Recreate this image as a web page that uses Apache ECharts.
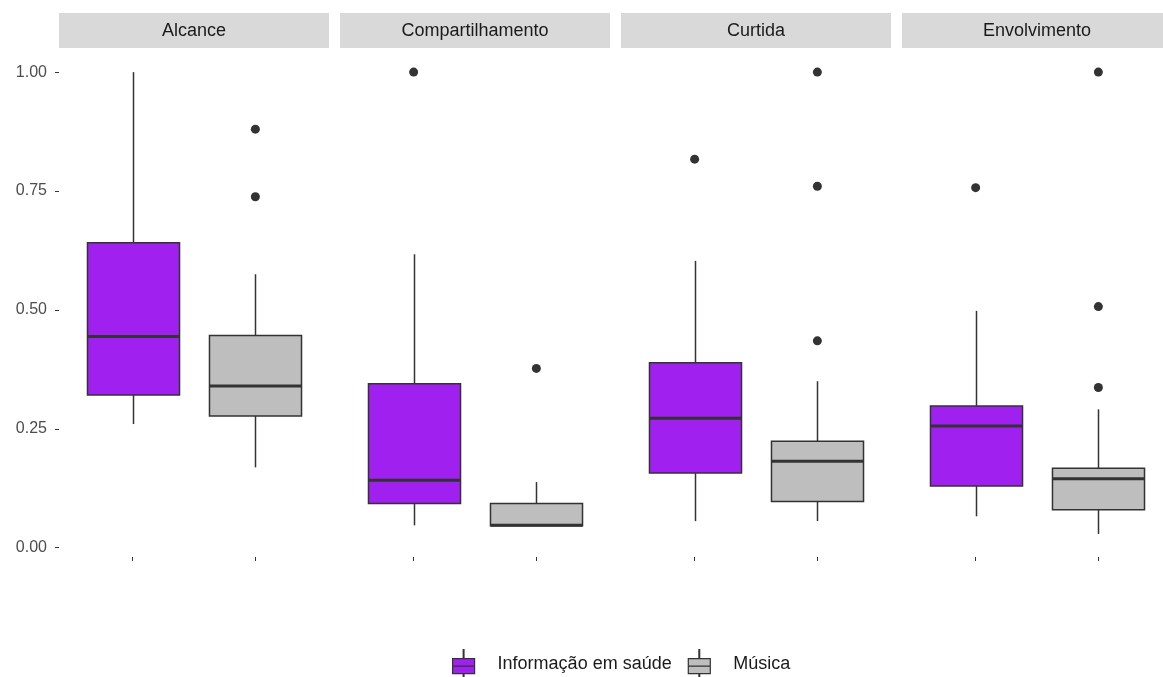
<!DOCTYPE html>
<html>
<head>
<meta charset="utf-8">
<script src="https://cdn.jsdelivr.net/npm/echarts@6/dist/echarts.min.js"></script>
<style>
  html, body { margin: 0; padding: 0; background: #fff; }
  #chart { width: 1163px; height: 677px; }
</style>
</head>
<body>
<div id="chart"></div>
<script>
// facetas e grupos
const panels = ['Alcance', 'Compartilhamento', 'Curtida', 'Envolvimento']
const groups = ['Informação em saúde', 'Música']

// [min, Q1, mediana, Q3, max] por faceta
const saudeBoxes = [
  [0.260, 0.321, 0.444, 0.641, 1.000],
  [0.047, 0.093, 0.142, 0.345, 0.617],
  [0.056, 0.157, 0.272, 0.389, 0.603],
  [0.066, 0.130, 0.256, 0.298, 0.498]
]
const musicaBoxes = [
  [0.169, 0.277, 0.340, 0.446, 0.575],
  [0.046, 0.046, 0.047, 0.093, 0.138],
  [0.056, 0.097, 0.182, 0.224, 0.350],
  [0.029, 0.080, 0.145, 0.167, 0.291]
]
const saudeOutliers = [[], [1.000], [0.817], [0.757]]
const musicaOutliers = [[0.880, 0.738], [0.377], [1.000, 0.760, 0.435], [1.000, 0.507, 0.337]]

const yTicks = [0, 0.25, 0.5, 0.75, 1]

const colors = ['#A020F0', '#BEBEBE']
const lineColor = '#333333'
const font = 'Liberation Sans, Arial, sans-serif'

const chart = echarts.init(document.getElementById('chart'))

const panelLeft = 59
const panelWidth = 270
const panelGap = 11

function renderBox(params, api) {
  const x = api.value(0)
  const lo = api.coord([x, api.value(1)])
  const q1 = api.coord([x, api.value(2)])
  const med = api.coord([x, api.value(3)])
  const q3 = api.coord([x, api.value(4)])
  const hi = api.coord([x, api.value(5)])
  const w = api.size([0.75, 0])[0]
  const cx = Math.round(q1[0]) + 0.5
  const left = cx - w / 2
  const style = { stroke: lineColor, lineWidth: 1.5 }
  return {
    type: 'group',
    children: [
      { type: 'line', shape: { x1: cx, y1: q3[1], x2: cx, y2: hi[1] }, style },
      { type: 'line', shape: { x1: cx, y1: q1[1], x2: cx, y2: lo[1] }, style },
      {
        type: 'rect',
        shape: { x: left, y: q3[1], width: w, height: q1[1] - q3[1] },
        style: { fill: api.visual('color'), stroke: lineColor, lineWidth: 1.5 }
      },
      { type: 'line', shape: { x1: left, y1: med[1], x2: left + w, y2: med[1] }, style: { stroke: lineColor, lineWidth: 3 } }
    ]
  }
}

const grids = []
const xAxes = []
const yAxes = []
const series = []
const graphics = []

panels.forEach((name, i) => {
  const left = panelLeft + i * (panelWidth + panelGap)
  grids.push({ left, top: 49, width: panelWidth, height: 508, outerBoundsMode: 'none', containLabel: false })
  xAxes.push({
    gridIndex: i,
    type: 'value',
    min: 0.4,
    max: 2.6,
    axisLine: { show: false, onZero: false },
    splitLine: { show: false },
    axisLabel: { show: false },
    axisTick: { show: true, customValues: [1, 2], length: 4, lineStyle: { color: lineColor, width: 1 } }
  })
  yAxes.push({
    gridIndex: i,
    type: 'value',
    min: -0.0195,
    max: 1.0486,
    axisLine: { show: false, onZero: false },
    splitLine: { show: false },
    axisTick: { show: i === 0, customValues: yTicks, length: 4, lineStyle: { color: lineColor } },
    axisLabel: {
      show: i === 0,
      customValues: yTicks,
      margin: 12,
      color: '#4D4D4D',
      fontFamily: font,
      fontSize: 16,
      formatter: v => v.toFixed(2)
    }
  })

  const boxData = [saudeBoxes[i], musicaBoxes[i]]
  const outData = [saudeOutliers[i], musicaOutliers[i]]
  groups.forEach((g, k) => {
    series.push({
      name: g,
      type: 'custom',
      xAxisIndex: i,
      yAxisIndex: i,
      itemStyle: { color: colors[k] },
      renderItem: renderBox,
      data: [[k + 1].concat(boxData[k])],
      silent: true
    })
    series.push({
      type: 'scatter',
      xAxisIndex: i,
      yAxisIndex: i,
      symbolSize: 9,
      clip: false,
      itemStyle: { color: lineColor, opacity: 1 },
      data: outData[k].map(v => [k + 1, v]),
      silent: true
    })
  })

  graphics.push({
    type: 'rect',
    shape: { x: left, y: 13, width: panelWidth, height: 35 },
    style: { fill: '#D9D9D9' },
    textContent: {
      style: { text: name, fill: '#1A1A1A', fontFamily: font, fontSize: 18 }
    },
    textConfig: { position: 'inside', offset: [0, 1] }
  })
})

// ícone de boxplot para a legenda
const boxIcon = 'path://M10.6,0H11.4V9H10.6Z M0,9H22V16.5H0Z M0,16.5H22V24H0Z M10.6,24H11.4V28H10.6Z'

chart.setOption({
  backgroundColor: '#fff',
  animation: false,
  grid: grids,
  xAxis: xAxes,
  yAxis: yAxes,
  series,
  graphic: graphics,
  legend: {
    data: groups.map(g => ({ name: g, icon: boxIcon })),
    left: 452,
    top: 649,
    padding: 0,
    itemWidth: 22,
    itemHeight: 28,
    itemGap: 16,
    itemStyle: { borderColor: lineColor, borderWidth: 1.2 },
    textStyle: { color: '#1A1A1A', fontFamily: font, fontSize: 18, padding: [0, 0, 0, 18] }
  }
})
</script>
</body>
</html>
